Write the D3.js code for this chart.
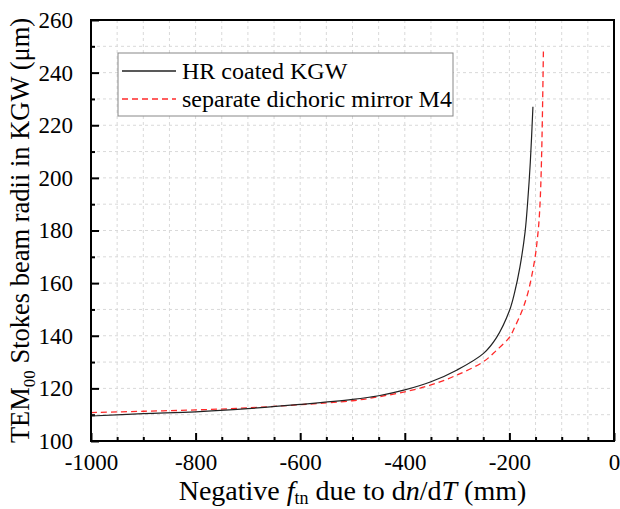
<!DOCTYPE html>
<html lang="en">
<head>
<meta charset="UTF-8">
<title>TEM00 Stokes beam radii in KGW</title>
<script src="https://d3js.org/d3.v7.min.js"></script>
<style>
  body { margin: 0; background: #fff; }
  svg { display: block; font-family: "Liberation Serif", "Times New Roman", serif; }
  .grid line { stroke: #d9d9d9; stroke-width: 1; stroke-dasharray: 3,3; }
  .axis path { display: none; }
  .axis line { stroke: #000; stroke-width: 2; }
  .axis text { font-size: 23px; fill: #000; font-family: "Liberation Serif", serif; }
</style>
</head>
<body>
<svg width="620" height="509"></svg>
<script>
// HR coated KGW (black, solid)
const hrX = [-1000, -900, -800, -700, -600, -500, -450, -400, -350, -300, -250, -225, -200, -190, -180, -170, -165, -160, -155];
const hrY = [109.5, 110.4, 111.1, 112.3, 113.9, 115.8, 117.2, 119.4, 122.5, 127.0, 133.2, 139.2, 149.5, 156.5, 166.0, 179.5, 191.0, 206.0, 227.0];

// separate dichoric mirror M4 (red, dashed)
const dmX = [-1000, -900, -800, -700, -600, -500, -450, -400, -350, -300, -250, -225, -200, -190, -180, -173, -165, -157, -150, -147, -144, -141, -138, -135];
const dmY = [110.8, 111.3, 111.8, 112.6, 113.8, 115.3, 116.8, 118.7, 121.3, 125.1, 130.1, 134.4, 139.4, 143.2, 147.5, 151.0, 156.0, 163.0, 171.0, 176.0, 182.0, 192.0, 212.0, 248.0];

const seriesNames = ["HR coated KGW", "separate dichoric mirror M4"];
const xTicks = [-1000, -800, -600, -400, -200, 0];
const yTicks = [100, 120, 140, 160, 180, 200, 220, 240, 260];

const svg = d3.select("svg");
const mLeft = 91, mRight = 614, mTop = 20, mBottom = 441;

const x = d3.scaleLinear().domain([-1000, 0]).range([mLeft, mRight]);
const y = d3.scaleLinear().domain([100, 260]).range([mBottom, mTop]);

// grid at every minor step
const grid = svg.append("g").attr("class", "grid");
grid.selectAll(".gx")
  .data(d3.range(-950, 0, 50))
  .enter().append("line")
  .attr("x1", d => x(d)).attr("x2", d => x(d))
  .attr("y1", mTop).attr("y2", mBottom);
grid.selectAll(".gy")
  .data(d3.range(110, 260, 10))
  .enter().append("line")
  .attr("x1", mLeft).attr("x2", mRight)
  .attr("y1", d => y(d)).attr("y2", d => y(d));

// minor ticks
svg.append("g").attr("class", "axis")
  .attr("transform", `translate(0,${mBottom})`)
  .call(d3.axisBottom(x).tickValues(d3.range(-950, 0, 50).filter(v => v % 200 !== 0)).tickSize(-4).tickFormat(""));
svg.append("g").attr("class", "axis")
  .attr("transform", `translate(${mLeft},0)`)
  .call(d3.axisLeft(y).tickValues(d3.range(110, 260, 10).filter(v => v % 20 !== 0)).tickSize(-4).tickFormat(""));

// major ticks
svg.append("g").attr("class", "axis")
  .attr("transform", `translate(0,${mBottom})`)
  .call(d3.axisBottom(x).tickValues(xTicks).tickSize(-8).tickPadding(16).tickFormat(d => d))
  .selectAll("text").attr("dy", "0.55em");
svg.append("g").attr("class", "axis")
  .attr("transform", `translate(${mLeft},0)`)
  .call(d3.axisLeft(y).tickValues(yTicks).tickSize(-8).tickPadding(18).tickFormat(d => d));

// curves
const line = d3.line().x(d => x(d[0])).y(d => y(d[1])).curve(d3.curveCatmullRom.alpha(0.5));
svg.append("path")
  .datum(d3.zip(dmX, dmY))
  .attr("fill", "none")
  .attr("stroke", "#ff2a2a")
  .attr("stroke-width", 1.3)
  .attr("stroke-dasharray", "6,4")
  .attr("d", line);
svg.append("path")
  .datum(d3.zip(hrX, hrY))
  .attr("fill", "none")
  .attr("stroke", "#222")
  .attr("stroke-width", 1.2)
  .attr("d", line);

// frame
svg.append("rect")
  .attr("x", mLeft).attr("y", mTop)
  .attr("width", mRight - mLeft).attr("height", mBottom - mTop)
  .attr("fill", "none").attr("stroke", "#000").attr("stroke-width", 2);

// legend
const lg = svg.append("g");
lg.append("rect")
  .attr("x", 118).attr("y", 53).attr("width", 335).attr("height", 63)
  .attr("fill", "#fff").attr("stroke", "#888").attr("stroke-width", 1);
const styles = [{ c: "#222", dash: null }, { c: "#ff2a2a", dash: "6,4" }];
seriesNames.forEach((name, i) => {
  const cy = 71 + i * 28;
  lg.append("line")
    .attr("x1", 122).attr("x2", 176).attr("y1", cy).attr("y2", cy)
    .attr("stroke", styles[i].c).attr("stroke-width", 1.3)
    .attr("stroke-dasharray", styles[i].dash);
  lg.append("text")
    .attr("x", 182).attr("y", cy + 8)
    .attr("font-size", 24)
    .text(name);
});

// x title
const xt = svg.append("text")
  .attr("x", (mLeft + mRight) / 2).attr("y", 500)
  .attr("text-anchor", "middle")
  .attr("font-size", 28);
xt.append("tspan").text("Negative ");
xt.append("tspan").attr("font-style", "italic").text("f");
xt.append("tspan").attr("font-size", 18).attr("dy", 4).text("tn");
xt.append("tspan").attr("dy", -4).text(" due to d");
xt.append("tspan").attr("font-style", "italic").text("n");
xt.append("tspan").text("/d");
xt.append("tspan").attr("font-style", "italic").text("T");
xt.append("tspan").text(" (mm)");

// y title
const yt = svg.append("text")
  .attr("transform", `translate(29,${(mTop + mBottom) / 2}) rotate(-90)`)
  .attr("text-anchor", "middle")
  .attr("font-size", 26.5);
yt.append("tspan").text("TEM");
yt.append("tspan").attr("font-size", 17).attr("dy", 6).text("00");
yt.append("tspan").attr("dy", -6).text(" Stokes beam radii in KGW (\u03bcm)");
</script>
</body>
</html>
